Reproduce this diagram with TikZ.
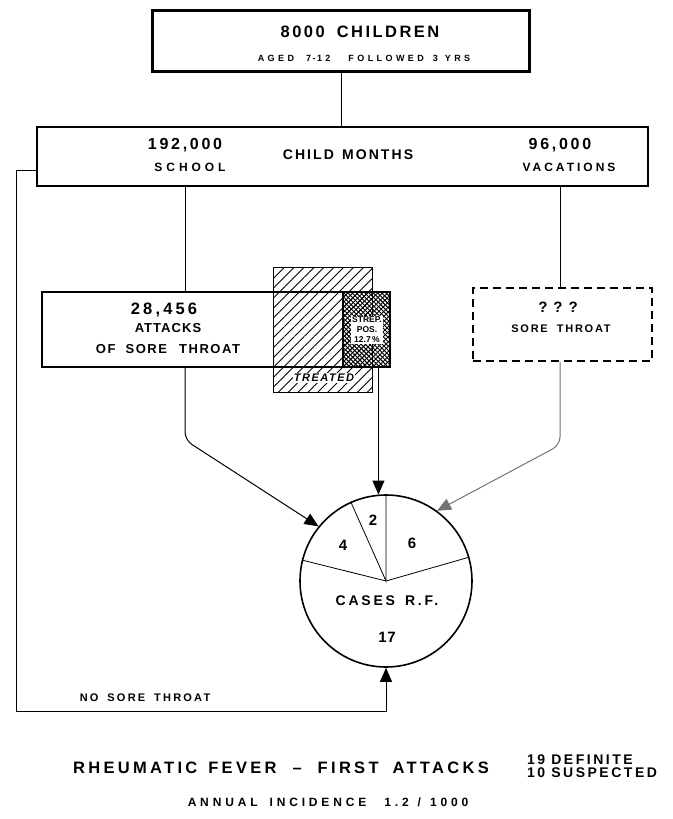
\documentclass[tikz,border=0pt]{standalone}
\usepackage{fontspec}
\newfontfamily\lett{Liberation Sans}
\usetikzlibrary{positioning,arrows.meta,patterns.meta}

\newcommand{\lsize}[2]{\fontsize{#1pt}{#1pt}\selectfont\addfontfeatures{LetterSpace=#2}}
\newcommand{\gap}[1][9pt]{\hspace{#1}}

\tikzset{
  box/.style={draw, line width=2.2pt, rectangle, inner sep=0pt},
  lab/.style={inner sep=0pt, anchor=center},
  link/.style={line width=1pt, rounded corners=8pt},
  tip/.style={-{Triangle[length=14pt,width=12pt]}},
}

\begin{document}
\begin{tikzpicture}[x=1pt,y=-1pt]
    \useasboundingbox (0,0) rectangle (672,819);

    % Cohort
    \node[box, minimum width=377pt, minimum height=61pt] (kids) at (341,41) {};
    \node[lab, font=\lett\bfseries\lsize{16.5}{15}] (kidsnum) at (360,32) {8000\gap[12pt]CHILDREN};
    \node[lab, font=\lett\bfseries\lsize{9}{38}] (kidsage) at (364,58) {AGED\gap[12pt]7\,-\,12\gap[18pt]FOLLOWED\gap 3\gap[7pt]YRS};

    % Child months
    \node[box, minimum width=611pt, minimum height=59pt] (months) at (342.5,156.5) {};
    \node[lab, font=\lett\bfseries\lsize{16}{17}] (school) at (185,145) {192,000};
    \node[lab, font=\lett\bfseries\lsize{12}{33}] (schoolsub) at (190,167) {SCHOOL};
    \node[lab, font=\lett\bfseries\lsize{14}{15}] (monthstxt) at (348,155) {CHILD\gap[8pt]MONTHS};
    \node[lab, font=\lett\bfseries\lsize{16}{17}] (vac) at (560,145) {96,000};
    \node[lab, font=\lett\bfseries\lsize{12}{25}] (vacsub) at (569,167) {VACATIONS};

    % Attacks during school
    \node[draw, line width=0.8pt, minimum width=99pt, minimum height=125pt,
          pattern={Lines[angle=45,distance=7pt,line width=0.9pt]}] (treated) at (322.5,329.5) {};
    \node[draw, line width=2.2pt, minimum width=47pt, minimum height=75pt,
          pattern={Lines[angle=-45,distance=3pt,line width=1pt]}] (strep) at (366.5,329.5) {};
    \fill[pattern={Lines[angle=45,distance=3.5pt,line width=0.9pt]}] (strep.south west) rectangle (strep.north east);
    \node[box, minimum width=348pt, minimum height=75pt] (attacks) at (216,329.5) {};
    \node[lab, font=\lett\bfseries\lsize{16.5}{19}] (attnum) at (164,310) {28,456};
    \node[lab, font=\lett\bfseries\lsize{13}{8}] (attword) at (168,328) {ATTACKS};
    \node[lab, font=\lett\bfseries\lsize{13}{12}] (attsore) at (168,349) {OF\gap[10pt]SORE\gap[12pt]THROAT};
    \node[lab, fill=white, inner sep=1pt, align=center, font=\lett\bfseries\lsize{8.5}{0}] (streptxt) at (367,330) {STREP.\\[1.5pt]POS.\\[1.5pt]12.7\,\%};
    \node[lab, fill=white, inner sep=1pt, font=\lett\bfseries\itshape\lsize{11}{14}] (treatedtxt) at (324,378) {TREATED};

    % Vacations
    \node[draw, line width=2pt, dashed, dash pattern=on 8pt off 5pt, minimum width=179pt, minimum height=73pt] (unknown) at (562.5,324.5) {};
    \node[lab, font=\lett\bfseries\lsize{15}{0}] (qmarks) at (558,307) {?\gap[6pt]?\gap[6pt]?};
    \node[lab, font=\lett\bfseries\lsize{11}{16}] (unksore) at (561,329) {SORE\gap THROAT};

    % Rheumatic fever cases
    \node[draw, circle, line width=1.6pt, minimum size=172pt, inner sep=0pt] (rf) at (386,581) {};
    \draw[line width=0.8pt] (rf.90) -- (rf.center) -- (rf.114.8);
    \draw[line width=0.8pt] (rf.166.5) -- (rf.center) -- (rf.16.2);
    \node[lab, font=\lett\bfseries\lsize{15}{0}] (twocases) at (373,520) {2};
    \node[lab, font=\lett\bfseries\lsize{15}{0}] (fourcases) at (343,545) {4};
    \node[lab, font=\lett\bfseries\lsize{15}{0}] (sixcases) at (412,543) {6};
    \node[lab, font=\lett\bfseries\lsize{14}{20}] (rftxt) at (387,601) {CASES\gap[10pt]R.F.};
    \node[lab, font=\lett\bfseries\lsize{15}{5}] (rfnum) at (387,637) {17};

    % Connectors
    \draw[line width=1pt] (kids.south -| kids.center) -- (months.north -| kids.center);
    \draw[line width=1pt] (school |- months.south) -- (school |- attacks.north);
    \draw[line width=1pt] (vac |- months.south) -- (vac |- unknown.north);
    \draw[link, tip] (school |- attacks.south) -- (185,440) -- (rf.141);
    \draw[line width=1pt, tip] (rf.95 |- strep.south) -- (rf.95);
    \draw[link, tip, black!55] (vac |- unknown.south) -- (560,445) -- (rf.54);
    \coordinate (corner) at (16,711);
    \draw[line width=1pt, tip] ([yshift=-14pt]months.west) -| (corner) -| (rf.south);
    \node[lab, font=\lett\bfseries\lsize{11}{20}] (nosore) at (145,698) {NO\gap SORE\gap THROAT};

    % Caption
    \node[lab, font=\lett\bfseries\lsize{16.5}{20}] (title) at (281,768) {RHEUMATIC\gap[11pt]FEVER\gap[16pt]\textendash\gap[16pt]FIRST\gap[14pt]ATTACKS};
    \node[lab, anchor=west, align=left, font=\lett\bfseries\lsize{14}{18}] (counts) at (527,766) {19\gap[6pt]DEFINITE\\[-1pt]10\gap[6pt]SUSPECTED};
    \node[lab, font=\lett\bfseries\lsize{12}{32}] (incidence) at (328,802) {ANNUAL\gap[12pt]INCIDENCE\gap[18pt]1.2\gap /\gap 1000};
\end{tikzpicture}
\end{document}
